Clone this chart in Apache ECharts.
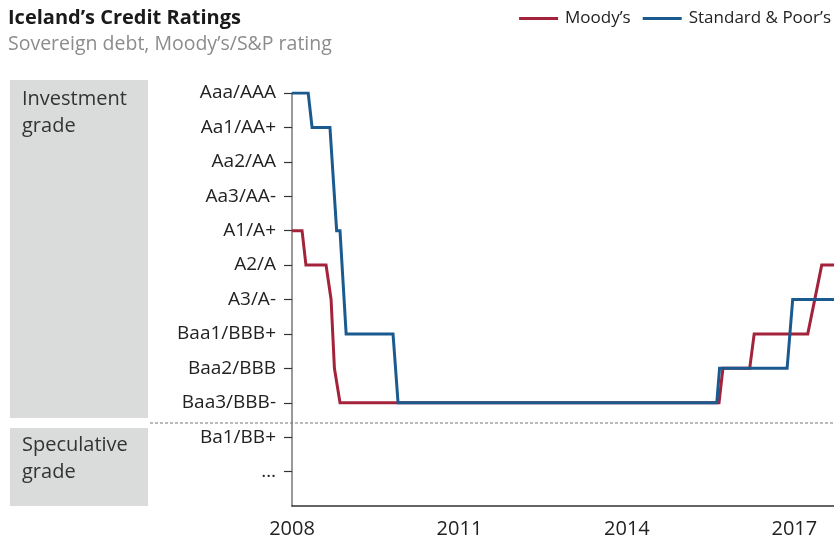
<!DOCTYPE html>
<html>
<head>
<meta charset="utf-8">
<script src="https://cdn.jsdelivr.net/npm/echarts@6/dist/echarts.min.js"></script>
<style>html,body{margin:0;padding:0;background:#fff}#c{width:834px;height:535px}</style>
</head>
<body>
<div id="c"></div>
<script>
// Rating scale (value index -> label)
const ratingLabels = ['…','Ba1/BB+','Baa3/BBB-','Baa2/BBB','Baa1/BBB+','A3/A-','A2/A','A1/A+','Aa3/AA-','Aa2/AA','Aa1/AA+','Aaa/AAA'];
const yearTicks = [2008, 2011, 2014, 2017];

// Moody's (decimal year, rating index)
const moodysDates   = [2008.00, 2008.18, 2008.25, 2008.61, 2008.70, 2008.73, 2008.76, 2008.86, 2015.65, 2015.72, 2016.20, 2016.28, 2017.24, 2017.49, 2017.75];
const moodysRatings = [7, 7, 6, 6, 5, 4, 3, 2, 2, 3, 3, 4, 4, 6, 6];

// Standard & Poor's
const spDates   = [2008.00, 2008.29, 2008.36, 2008.68, 2008.80, 2008.86, 2008.97, 2009.81, 2009.90, 2015.61, 2015.66, 2016.87, 2016.97, 2017.75];
const spRatings = [11, 11, 10, 10, 7, 7, 4, 4, 2, 2, 3, 3, 5, 5];

const FONT = 'Open Sans';
const chart = echarts.init(document.getElementById('c'));
const zip = (a, b) => a.map((v, i) => [v, b[i]]);

chart.setOption({
  animation: false,
  textStyle: { fontFamily: FONT },
  title: {
    text: 'Iceland’s Credit Ratings',
    subtext: 'Sovereign debt, Moody’s/S&P rating',
    left: 8, top: 6, itemGap: 2, padding: 0,
    textStyle: { fontFamily: FONT, fontWeight: 'bold', fontSize: 20, lineHeight: 24, color: '#1a1a1a' },
    subtextStyle: { fontFamily: FONT, fontSize: 19.5, lineHeight: 24, color: '#8c8c8c' }
  },
  legend: {
    top: 10, right: 3, padding: 0,
    icon: 'rect', itemWidth: 39, itemHeight: 3, itemGap: 12,
    textStyle: { fontFamily: FONT, fontSize: 17, color: '#222', padding: [0, 0, 0, 2] },
    data: ['Moody’s', 'Standard & Poor’s']
  },
  grid: { left: 292, right: 0, top: 93, bottom: 29, containLabel: false, outerBoundsMode: 'none' },
  xAxis: {
    type: 'value', min: 2008, max: 2017.71,
    splitLine: { show: false },
    axisLine: { show: true, onZero: false, lineStyle: { color: '#333', width: 1.5 } },
    axisTick: { show: false },
    axisLabel: { customValues: yearTicks, fontSize: 20, lineHeight: 20, color: '#222', margin: 13, formatter: v => String(v) }
  },
  yAxis: {
    type: 'value', min: -1, max: 11,
    splitLine: { show: false },
    axisLine: { show: true, onZero: false, lineStyle: { color: '#777', width: 1.5 } },
    axisTick: { show: true, customValues: ratingLabels.map((_, i) => i), length: 8, lineStyle: { color: '#333', width: 1.2 } },
    axisLabel: { customValues: ratingLabels.map((_, i) => i), fontSize: 19, color: '#222', margin: 16, formatter: v => ratingLabels[v] || '' }
  },
  graphic: [
    { type: 'rect', shape: { x: 10, y: 80, width: 138, height: 338 }, style: { fill: '#d9dcdb' }, z: -1 },
    { type: 'rect', shape: { x: 10, y: 428, width: 138, height: 78 }, style: { fill: '#d9dcdb' }, z: -1 },
    { type: 'text', x: 22, y: 86, style: { text: 'Investment\ngrade', font: '20px ' + FONT, lineHeight: 27, fill: '#333' } },
    { type: 'text', x: 22, y: 432, style: { text: 'Speculative\ngrade', font: '20px ' + FONT, lineHeight: 27, fill: '#333' } },
    { type: 'line', shape: { x1: 150, y1: 423, x2: 834, y2: 423 }, style: { stroke: '#777', lineWidth: 1, lineDash: [3, 2] } }
  ],
  series: [
    { name: 'Moody’s', type: 'line', data: zip(moodysDates, moodysRatings), showSymbol: false, symbol: 'none',
      color: '#a3233a', lineStyle: { width: 3, color: '#a3233a', join: 'miter' }, z: 2 },
    { name: 'Standard & Poor’s', type: 'line', data: zip(spDates, spRatings), showSymbol: false, symbol: 'none',
      color: '#1b5a8e', lineStyle: { width: 3, color: '#1b5a8e', join: 'miter' }, z: 3 }
  ]
});
</script>
</body>
</html>
